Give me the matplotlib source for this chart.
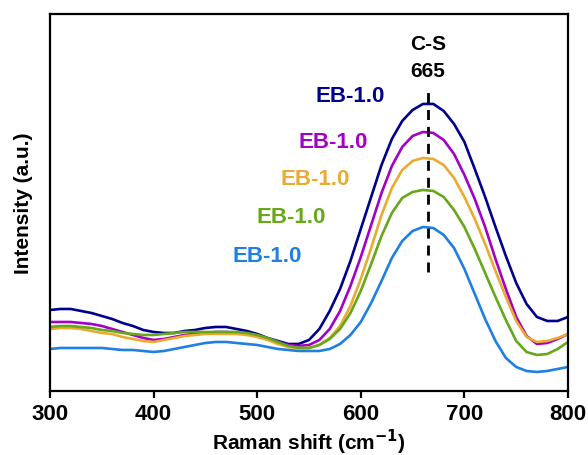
import matplotlib
matplotlib.use('Agg')
import matplotlib.pyplot as plt

plt.rcParams['font.family'] = ['Liberation Sans', 'DejaVu Sans']
plt.rcParams['font.weight'] = 'bold'

# Raman shift (cm-1)
shift = [300, 310, 320, 330, 340, 350, 360, 370, 380, 390, 400,
         410, 420, 430, 440, 450, 460, 470, 480, 490, 500,
         510, 520, 530, 540, 550, 560, 570, 580, 590, 600,
         610, 620, 630, 640, 650, 660, 670, 680, 690, 700,
         710, 720, 730, 740, 750, 760, 770, 780, 790, 800]

# intensities (arbitrary units)
navy = [81, 82, 82, 80, 78, 75, 72, 68, 65, 61, 59,
        58, 58, 60, 61, 63, 64, 64, 62, 60, 57,
        53, 50, 47, 47, 51, 62, 80, 102, 130, 162,
        194, 226, 252, 270, 281, 287, 287, 280, 267, 249,
        222, 194, 164, 135, 108, 87, 74, 70, 70, 74]
purple = [69, 69, 69, 68, 67, 65, 62, 59, 56, 53, 51,
          52, 54, 56, 57, 58, 59, 59, 58, 57, 55,
          52, 49, 46, 45, 46, 51, 62, 80, 105, 134,
          166, 198, 225, 244, 255, 259, 258, 251, 237, 216,
          192, 164, 132, 102, 74, 55, 47, 48, 52, 57]
orange = [62, 63, 63, 62, 60, 58, 57, 54, 52, 50, 49,
          51, 53, 55, 56, 57, 57, 57, 57, 56, 54,
          51, 47, 44, 43, 43, 46, 53, 65, 85, 112,
          143, 176, 203, 221, 230, 233, 232, 226, 213, 194,
          172, 147, 120, 94, 70, 54, 49, 50, 53, 57]
green = [64, 65, 65, 64, 63, 61, 60, 58, 57, 56, 56,
         57, 58, 59, 59, 59, 59, 59, 59, 58, 56,
         53, 49, 45, 43, 43, 46, 52, 62, 78, 100,
         127, 155, 178, 193, 199, 201, 200, 194, 181, 164,
         142, 118, 94, 71, 50, 39, 36, 37, 42, 49]
blue = [42, 43, 43, 43, 43, 43, 42, 41, 41, 40, 39,
        40, 42, 44, 46, 48, 49, 49, 48, 47, 46,
        44, 42, 41, 40, 40, 40, 42, 47, 56, 69,
        88, 110, 133, 150, 160, 164, 163, 156, 143, 122,
        97, 72, 50, 33, 24, 20, 19, 20, 22, 24]

series = [navy, purple, orange, green, blue]
labels = ['EB-1.0', 'EB-1.0', 'EB-1.0', 'EB-1.0', 'EB-1.0']
colors = ['#00008E', '#A300C8', '#EBAA30', '#66A819', '#1F7FE3']
label_pos = [(590, 295), (573, 249), (556, 212), (533, 174), (510, 135)]
peak = 665

fig = plt.figure(figsize=(5.88, 4.56), dpi=100)
ax = fig.add_axes([0.085, 0.1404, 0.881, 0.8268])

for vals, col in zip(series, colors):
    ax.plot(shift, vals, color=col, linewidth=1.9, solid_joinstyle='round')

for (lx, ly), lab, col in zip(label_pos, labels, colors):
    ax.text(lx, ly, lab, color=col, fontsize=16, fontweight='bold',
            ha='center', va='center')

# C-S band marker
ax.axvline(peak, ymin=0.316, ymax=0.809, color='black', linewidth=2,
           linestyle=(0, (3.6, 2.5)))
ax.text(peak, 347, 'C-S', fontsize=15, fontweight='bold', ha='center', va='center')
ax.text(peak, 320, str(peak), fontsize=15, fontweight='bold', ha='center', va='center')

ax.set_xlim(300, 800)
ax.set_ylim(0, 377)
ax.set_xticks([300, 400, 500, 600, 700, 800])
ax.set_yticks([])
ax.tick_params(axis='x', direction='out', length=5, width=1.6, labelsize=16, pad=4)
for lbl in ax.get_xticklabels():
    lbl.set_fontweight('bold')
for sp in ax.spines.values():
    sp.set_linewidth(1.6)

ax.set_xlabel('Raman shift (cm$^{\\mathbf{-1}}$)', fontsize=15, fontweight='bold', labelpad=2)
ax.set_ylabel('Intensity (a.u.)', fontsize=15, fontweight='bold', labelpad=12)

fig.savefig('out.png', dpi=100)
